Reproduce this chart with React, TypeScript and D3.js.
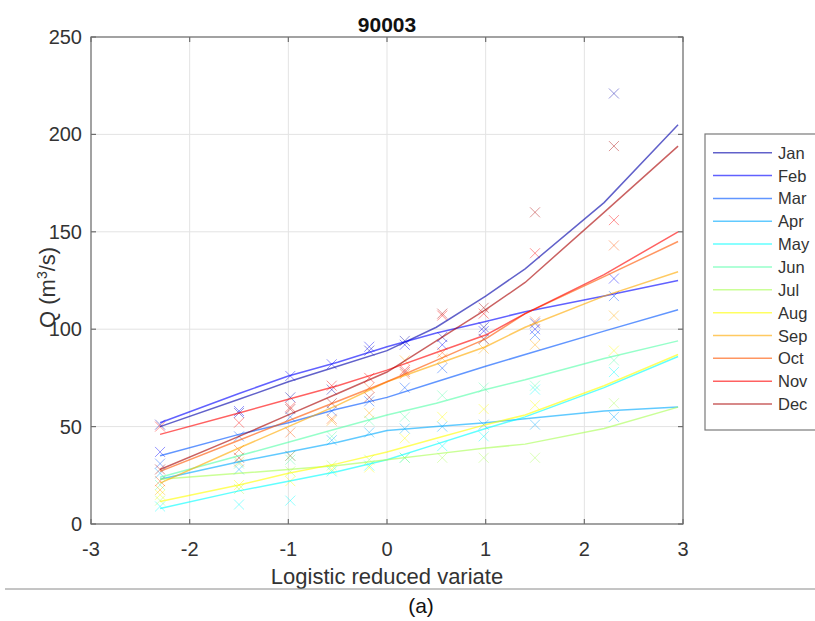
import React from 'react';
import * as d3 from 'd3';

const months = ['Jan', 'Feb', 'Mar', 'Apr', 'May', 'Jun', 'Jul', 'Aug', 'Sep', 'Oct', 'Nov', 'Dec'];
// jet(12)
const colors = ['#0000aa', '#0000ff', '#0055ff', '#00aaff', '#00ffff', '#55ffaa',
  '#aaff55', '#ffff00', '#ffaa00', '#ff5500', '#ff0000', '#aa0000'];

// plotting positions (logistic reduced variate) of the observed values
const pointX = [-2.30, -1.50, -0.98, -0.56, -0.18, 0.18, 0.56, 0.98, 1.50, 2.30];
const pointsQ = [
  [51, 57, 65, 69, 89, 94, 96, 101, 103, 221],
  [37, 58, 76, 82, 91, 92, 92, 99, 100, 126],
  [31, 45, 55, 58, 63, 70, 80, 95, 97, 117],
  [26, 28, 35, 43, 47, 49, 50, 51, 51, 55],
  [9, 10, 12, 27, 30, 34, 40, 45, 69, 78],
  [20, 31, 33, 45, 53, 55, 66, 70, 71, 84],
  [12, 18, 27, 30, 33, 34, 34, 34, 34, 62],
  [15, 20, 22, 28, 29, 44, 55, 59, 61, 89],
  [17.5, 32, 35, 53, 57, 84, 85, 90, 92, 107],
  [22, 38, 47, 54, 70, 77, 88, 95, 104, 143],
  [50, 52, 60, 71, 75, 79, 107, 108, 139, 156],
  [28, 34, 59, 62, 65, 78, 108, 111, 160, 194],
];

// fitted curves
const lineX = [-2.3, -1.5, -1, -0.5, 0, 0.5, 1, 1.4, 2.2, 2.95];
const linesQ = [
  [50, 64, 73, 81, 89, 101, 117, 131, 165, 205],
  [52, 67, 76, 83, 91, 98, 104, 109, 117, 125],
  [35, 46, 52, 59, 65, 73, 81, 87, 99, 110],
  [23, 32, 37, 42, 48, 50, 52, 54, 58, 60],
  [8, 17, 22, 27, 33, 41, 49, 55, 70, 86],
  [24, 35, 42, 49, 56, 62, 69, 74, 85, 94],
  [23, 26, 28, 30, 33, 36, 39, 41, 49, 60],
  [11.5, 20, 26, 31, 37, 44, 51, 56, 71, 87],
  [21, 39, 50, 61, 73, 82, 91, 101, 117, 129.5],
  [27, 43, 53, 63, 73, 84, 95, 108, 127, 145],
  [46, 57, 64, 71, 79, 88, 97, 108, 128, 150],
  [28, 45, 56, 67, 78, 94, 110, 124, 160, 194],
];

const xTicks = [-3, -2, -1, 0, 1, 2, 3];
const yTicks = [0, 50, 100, 150, 200, 250];

const W = 815, H = 621;
const left = 91, right = 683, top = 37, bottom = 524;
const font = 'Liberation Sans, Arial, Helvetica, sans-serif';

export default function App() {
  const x = d3.scaleLinear().domain([-3, 3]).range([left, right]);
  const y = d3.scaleLinear().domain([0, 250]).range([bottom, top]);
  const line = d3.line<number>().x((_, i) => x(lineX[i])).y(d => y(d));
  const tick = 5;
  const legX = 705, legY = 134, legStep = 22.85;

  return (
    <div style={{ position: 'absolute', left: 0, top: 0 }}>
      <svg width={W} height={H} style={{ display: 'block', fontFamily: font }}>
        <rect width={W} height={H} fill="#fff" />
        {/* grid */}
        {xTicks.map(t => (
          <line key={'gx' + t} x1={x(t)} x2={x(t)} y1={top} y2={bottom} stroke="#e3e3e3" strokeWidth={1} />
        ))}
        {yTicks.map(t => (
          <line key={'gy' + t} x1={left} x2={right} y1={y(t)} y2={y(t)} stroke="#e3e3e3" strokeWidth={1} />
        ))}
        {/* markers */}
        {pointsQ.map((s, m) => (
          <g key={'p' + m} stroke={colors[m]} strokeOpacity={0.42} strokeWidth={1}>
            {s.map((q, i) => (
              <path key={i} d="M-5,-5L5,5M-5,5L5,-5" transform={`translate(${x(pointX[i])},${y(q)})`} />
            ))}
          </g>
        ))}
        {/* fitted lines */}
        {linesQ.map((s, m) => (
          <path key={'l' + m} d={line(s) || ''} fill="none" stroke={colors[m]} strokeOpacity={0.62} strokeWidth={1.5} />
        ))}
        {/* box & ticks */}
        <rect x={left} y={top} width={right - left} height={bottom - top} fill="none" stroke="#6e6e6e" strokeWidth={1.2} />
        {xTicks.map(t => (
          <g key={'tx' + t} stroke="#6e6e6e" strokeWidth={1.2}>
            <line x1={x(t)} x2={x(t)} y1={bottom} y2={bottom - tick} />
            <line x1={x(t)} x2={x(t)} y1={top} y2={top + tick} />
          </g>
        ))}
        {yTicks.map(t => (
          <g key={'ty' + t} stroke="#6e6e6e" strokeWidth={1.2}>
            <line x1={left} x2={left + tick} y1={y(t)} y2={y(t)} />
            <line x1={right} x2={right - tick} y1={y(t)} y2={y(t)} />
          </g>
        ))}
        {xTicks.map(t => (
          <text key={'lx' + t} x={x(t)} y={556} textAnchor="middle" fontSize={20} fill="#333">{t}</text>
        ))}
        {yTicks.map(t => (
          <text key={'ly' + t} x={82} y={y(t) + 7} textAnchor="end" fontSize={20} fill="#333">{t}</text>
        ))}
        <text x={(left + right) / 2} y={32} textAnchor="middle" fontSize={21} fontWeight="bold" fill="#111">90003</text>
        <text x={(left + right) / 2} y={584} textAnchor="middle" fontSize={22} fill="#333">Logistic reduced variate</text>
        <text transform="translate(55,328) rotate(-90)" fontSize={22} fill="#333">
          <tspan>Q (m</tspan><tspan fontSize={14} dy={-8}>3</tspan><tspan dy={8}>/s)</tspan>
        </text>
        {/* legend */}
        <rect x={legX} y={legY} width={130} height={296} fill="#fff" stroke="#7a7a7a" strokeWidth={1.2} />
        {months.map((mo, i) => (
          <g key={'lg' + mo}>
            <line x1={713} x2={772} y1={152.7 + i * legStep} y2={152.7 + i * legStep} stroke={colors[i]} strokeOpacity={0.62} strokeWidth={1.5} />
            <text x={778} y={152.7 + i * legStep + 6} fontSize={16.5} fill="#333">{mo}</text>
          </g>
        ))}
        {/* caption */}
        <line x1={5} x2={W} y1={589} y2={589} stroke="#8a8a8a" strokeWidth={1} />
        <text x={421} y={613} textAnchor="middle" fontSize={21} fill="#111">(a)</text>
      </svg>
    </div>
  );
}
